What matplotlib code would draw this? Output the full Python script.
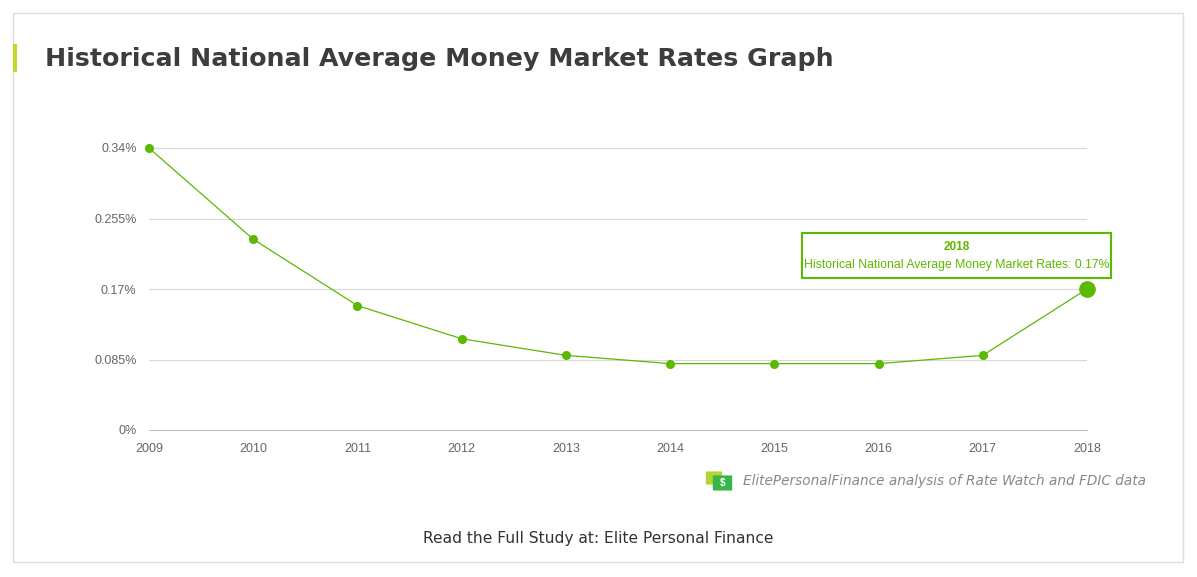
import matplotlib
matplotlib.use("Agg")
import matplotlib.pyplot as plt
from matplotlib.patches import Rectangle, FancyBboxPatch

years = [2009, 2010, 2011, 2012, 2013, 2014, 2015, 2016, 2017, 2018]
rates = [0.34, 0.23, 0.15, 0.11, 0.09, 0.08, 0.08, 0.08, 0.09, 0.17]
yticks = [0, 0.085, 0.17, 0.255, 0.34]
ytick_labels = ["0%", "0.085%", "0.17%", "0.255%", "0.34%"]

GREEN = "#5cb800"
W, H = 1197, 577
plt.rcParams["font.family"] = "Liberation Sans"
fig = plt.figure(figsize=(W / 100, H / 100), dpi=100)
fig.patch.set_facecolor("white")

# outer frame and title marker
fig.patches.append(Rectangle((13 / W, 1 - 562 / H), 1170 / W, 549 / H, transform=fig.transFigure,
                             fill=False, edgecolor="#dddddd", lw=1))
fig.patches.append(Rectangle((13 / W, 1 - 72 / H), 4 / W, 28 / H, transform=fig.transFigure,
                             color="#c5d82a", lw=0))
fig.text(45 / W, 1 - 59 / H, "Historical National Average Money Market Rates Graph",
         fontsize=18.2, fontweight="bold", color="#3d3d3d", family="DejaVu Sans", va="center")

ax = fig.add_axes([149 / W, 1 - 430 / H, 938 / W, 282 / H])
ax.plot(years, rates, color=GREEN, lw=0.9, marker="o", ms=5.5, zorder=3, clip_on=False)
ax.plot(years[-1], rates[-1], "o", color=GREEN, ms=11, zorder=4, clip_on=False)
ax.set_xlim(years[0], years[-1])
ax.set_ylim(0, 0.34)
ax.set_xticks(years)
ax.set_yticks(yticks)
ax.set_yticklabels(ytick_labels)
ax.tick_params(length=0, labelsize=9, colors="#666666", pad=9)
ax.grid(axis="y", color="#d8d8d8", lw=0.8)
ax.set_axisbelow(True)
for s in ax.spines.values():
    s.set_visible(False)
ax.spines["bottom"].set_visible(True)
ax.spines["bottom"].set_color("#c0c0c0")
ax.spines["bottom"].set_linewidth(0.8)

# tooltip
fig.patches.append(Rectangle((802 / W, 1 - 278 / H), 309 / W, 45 / H, transform=fig.transFigure,
                             facecolor="white", edgecolor=GREEN, lw=1.5, zorder=5))
fig.text(957 / W, 1 - 247 / H, "2018", fontsize=8.5, fontweight="bold", color=GREEN,
         ha="center", va="center", zorder=6)
fig.text(957 / W, 1 - 265 / H, "Historical National Average Money Market Rates: 0.17%",
         fontsize=8.8, color=GREEN, ha="center", va="center", zorder=6)

# source line
fig.patches.append(FancyBboxPatch((707 / W, 1 - 484 / H), 14 / W, 12 / H, transform=fig.transFigure,
                                  boxstyle="round,pad=0.001", color="#b5d334", lw=0))
fig.patches.append(FancyBboxPatch((714 / W, 1 - 490 / H), 17 / W, 14 / H, transform=fig.transFigure,
                                  boxstyle="round,pad=0.001", color="#3ab54a", lw=0))
fig.text(722.5 / W, 1 - 483 / H, "$", fontsize=7, color="white", fontweight="bold",
         ha="center", va="center")
fig.text(743 / W, 1 - 481 / H, "ElitePersonalFinance analysis of Rate Watch and FDIC data",
         fontsize=9.8, style="italic", color="#888888", family="DejaVu Sans", va="center")
fig.text(598 / W, 1 - 538 / H, "Read the Full Study at: Elite Personal Finance",
         fontsize=11.2, color="#333333", family="DejaVu Sans", ha="center", va="center")

fig.savefig("out.png", dpi=100)
